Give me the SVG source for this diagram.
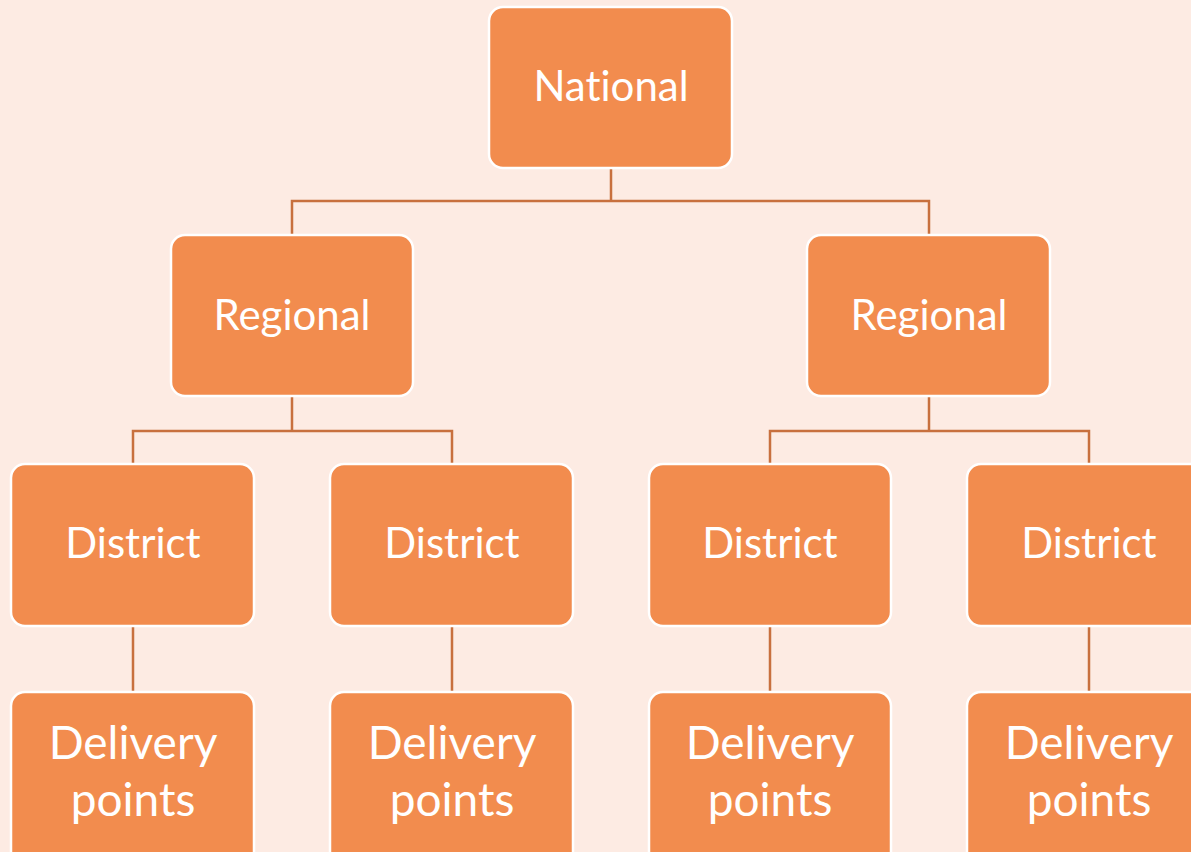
<svg xmlns="http://www.w3.org/2000/svg" width="1191" height="852" viewBox="0 0 1191 852">
<style>
.box{fill:#F28C4E;stroke:#FFFFFF;stroke-width:2.5}
.t{font-family:Lato,"Open Sans","Liberation Sans",sans-serif;font-size:42px;fill:#FFFFFF;text-anchor:middle;font-variant-ligatures:none;font-feature-settings:"liga" 0}
.d{font-size:46px}
.c{fill:none;stroke:#C8703E;stroke-width:2.5}
</style>
<rect width="1191" height="852" fill="#FDEBE3"/>
<g id="connectors">
<path class="c" d="M611 168V201M292 235V201H929V235"/>
<path class="c" d="M292 396V431M133 464V431H452V464"/>
<path class="c" d="M929 396V431M770 464V431H1089V464"/>
<path class="c" d="M133 626V692M452 626V692M770 626V692M1089 626V692"/>
</g>
<g id="national"><rect class="box" x="489" y="7" width="243" height="161" rx="14"/><text class="t" x="611" y="101">National</text></g>
<g id="regional1"><rect class="box" x="171" y="235" width="242" height="161" rx="14"/><text class="t" x="292" y="330">Regional</text></g>
<g id="regional2"><rect class="box" x="807" y="235" width="243" height="161" rx="14"/><text class="t" x="929" y="330">Regional</text></g>
<g id="district1"><rect class="box" x="11" y="464" width="243" height="162" rx="14"/><text class="t" x="133" y="558">District</text></g>
<g id="district2"><rect class="box" x="330" y="464" width="243" height="162" rx="14"/><text class="t" x="452" y="558">District</text></g>
<g id="district3"><rect class="box" x="649" y="464" width="242" height="162" rx="14"/><text class="t" x="770" y="558">District</text></g>
<g id="district4"><rect class="box" x="967" y="464" width="243" height="162" rx="14"/><text class="t" x="1089" y="558">District</text></g>
<g id="delivery1"><rect class="box" x="11" y="692" width="243" height="180" rx="14"/><text class="t d" x="133" y="759">Delivery</text><text class="t d" x="133" y="816">points</text></g>
<g id="delivery2"><rect class="box" x="330" y="692" width="243" height="180" rx="14"/><text class="t d" x="452" y="759">Delivery</text><text class="t d" x="452" y="816">points</text></g>
<g id="delivery3"><rect class="box" x="649" y="692" width="242" height="180" rx="14"/><text class="t d" x="770" y="759">Delivery</text><text class="t d" x="770" y="816">points</text></g>
<g id="delivery4"><rect class="box" x="967" y="692" width="243" height="180" rx="14"/><text class="t d" x="1089" y="759">Delivery</text><text class="t d" x="1089" y="816">points</text></g>
</svg>
